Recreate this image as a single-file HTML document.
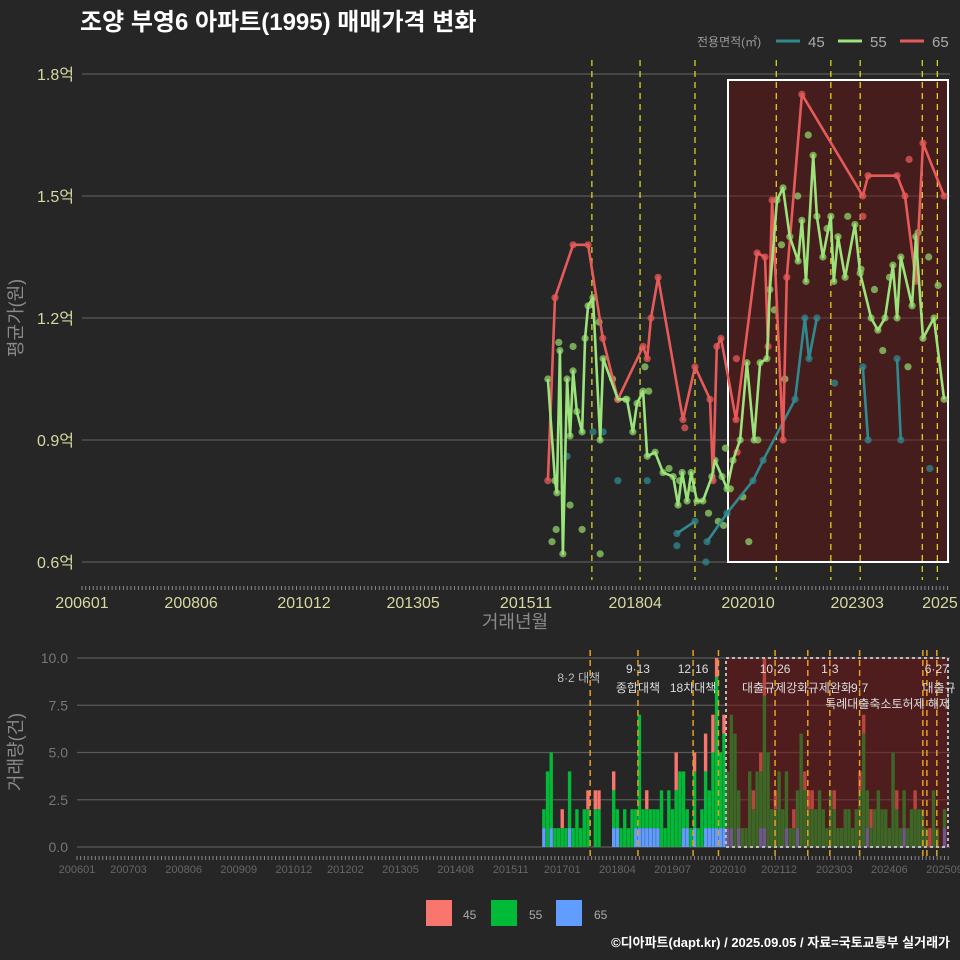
<!DOCTYPE html>
<html><head><meta charset="utf-8">
<style>
html,body{margin:0;padding:0;background:#262626;}
svg{display:block;font-family:"Liberation Sans","Noto Sans CJK KR",sans-serif;}
</style></head>
<body>
<svg id="c" width="960" height="960" viewBox="0 0 960 960">
<rect x="0" y="0" width="960" height="960" fill="#262626"/>
<text x="80" y="30" fill="#ffffff" font-size="24" font-weight="bold">조양 부영6 아파트(1995) 매매가격 변화</text>
<g>
<text x="697" y="46" fill="#9a9a9a" font-size="12">전용면적(㎡)</text>
<line x1="776" y1="41" x2="800" y2="41" stroke="#2f8a8f" stroke-width="3"/>
<text x="808" y="47" fill="#aaa" font-size="15">45</text>
<line x1="838" y1="41" x2="862" y2="41" stroke="#9be37a" stroke-width="3"/>
<text x="870" y="47" fill="#aaa" font-size="15">55</text>
<line x1="900" y1="41" x2="924" y2="41" stroke="#e85a5a" stroke-width="3"/>
<text x="932" y="47" fill="#aaa" font-size="15">65</text>
</g>
<text transform="translate(22,318) rotate(-90)" text-anchor="middle" fill="#8a8a8a" font-size="18">평균가(원)</text>
<text x="515" y="628" text-anchor="middle" fill="#8a8a8a" font-size="18">거래년월</text>
<text transform="translate(22,752) rotate(-90)" text-anchor="middle" fill="#8a8a8a" font-size="18">거래량(건)</text>
<g>
<rect x="426" y="900" width="26" height="26" fill="#f8766d"/>
<text x="463" y="919" fill="#aaa" font-size="12">45</text>
<rect x="491" y="900" width="26" height="26" fill="#00ba38"/>
<text x="529" y="919" fill="#aaa" font-size="12">55</text>
<rect x="556" y="900" width="26" height="26" fill="#619cff"/>
<text x="594" y="919" fill="#aaa" font-size="12">65</text>
</g>
<text x="950" y="947" text-anchor="end" fill="#ffffff" font-size="13" font-weight="bold">©디아파트(dapt.kr) / 2025.09.05 / 자료=국토교통부 실거래가</text>
</svg>
<script>
// ===== price chart data (t = months since 2006-01, values in 억) =====
const yTicks = [0.6, 0.9, 1.2, 1.5, 1.8];
const yTickLabels = ["0.6억", "0.9억", "1.2억", "1.5억", "1.8억"];
const xTickMonths = [0, 29, 59, 88, 118, 147, 177, 206, 228];
const xTickLabels = ["200601", "200806", "201012", "201305", "201511", "201804", "202010", "202303", "2025"];
const t65 = [123.8,125.7,130.5,134.5,138.4,142.4,149.1,150.2,151.2,153.1,159.7,162.9,166.9,167.7,168.7,169.8,173.8,179.4,181.5,182.3,183.4,186.3,187.3,191.3,207.5,208.9,216.6,218.7,221.6,223.5,229.1];
const v65 = [0.80,1.25,1.38,1.38,1.15,1.00,1.13,1.10,1.20,1.30,0.95,1.08,1.00,0.80,1.13,1.15,0.95,1.36,1.35,1.13,1.49,0.90,1.30,1.75,1.50,1.55,1.55,1.50,1.29,1.63,1.50];
const t55 = [123.8,125.7,126.2,127.0,127.8,128.9,129.7,130.5,131.5,132.9,133.7,134.5,135.8,137.7,138.5,142.4,144.8,146.4,147.5,149.1,150.2,152.3,154.4,157.1,158.4,159.5,160.8,161.9,163.4,165.0,167.4,168.2,170.1,171.4,173.0,174.9,176.7,178.6,180.2,182.0,182.8,184.7,186.3,188.1,190.3,191.3,192.4,194.3,195.3,196.9,199.0,199.8,200.9,202.8,205.4,206.8,209.7,211.5,213.4,215.5,216.6,217.6,220.6,221.6,223.5,226.4,229.1];
const v55 = [1.05,0.80,0.77,1.12,0.62,1.05,0.91,1.07,0.97,0.92,1.15,1.23,1.25,0.90,1.10,1.00,1.00,0.92,0.99,1.02,0.86,0.87,0.82,0.81,0.74,0.82,0.75,0.82,0.75,0.75,0.81,0.85,0.81,0.78,0.85,0.90,1.09,0.90,1.09,1.10,1.27,1.49,1.52,1.40,1.34,1.44,1.29,1.60,1.45,1.35,1.45,1.29,1.40,1.30,1.43,1.31,1.20,1.17,1.20,1.33,1.20,1.35,1.23,1.40,1.15,1.20,1.00];
const t45 = [158.1,162.9,null,166.1,171.4,178.3,181.0,189.5,192.1,193.2,195.3,null,207.5,208.9,null,216.6,217.6];
const v45 = [0.67,0.70,null,0.65,0.72,0.80,0.85,1.00,1.20,1.10,1.20,null,1.08,0.90,null,1.10,0.90];
const t55dots = [124.9,126.0,129.7,132.9,137.7,130.5,126.7,137.4,141.0,144.5,149.6,150.6,156.0,158.8,162.3,166.5,169.1,171.0,175.6,177.2,179.6,184.0,185.9,190.2,193.0,198.0,203.5,207.0,210.6,212.8,214.6,219.5,222.2,225.0,227.5,170.5,172.3,186.8];
const v55dots = [0.65,0.68,0.74,0.68,0.62,1.13,1.14,1.19,1.05,1.00,1.08,1.02,0.83,0.80,0.78,0.72,0.70,0.88,0.76,0.65,0.90,1.22,1.38,1.50,1.65,1.42,1.45,1.32,1.27,1.12,1.30,1.08,1.41,1.35,1.28,0.69,0.78,1.05];
const t65dots = [173.9,174.1,219.8,207.5,160.2];
const v65dots = [1.10,0.87,1.59,1.45,0.93];
const t45dots = [135.8,138.5,142.4,150.2,128.9,158.1,165.8,200.0,225.3];
const v45dots = [0.92,0.92,0.80,0.80,0.86,0.64,0.60,1.04,0.83];
const eventMonths = [135.5,148.3,162.9,184.5,199.0,206.8,223.3,227.3];

// ===== volume chart data (monthly from 2016-08) =====
const volStartMonth = 127;
const vol45 = [0,0,0,0,0,1,0,0,0,0,0,0,1,0,1,1,0,0,0,1,0,0,0,0,0,0,0,0,1,0,0,0,0,0,0,0,2,0,0,0,0,1,0,0,2,0,2,1,0,1,0,0,0,0,0,0,0,1,0,1,2,0,0,1,0,0,0,0,1,0,0,1,1,1,0,0,0,0,0,1,0,0,0,0,0,0,1,1,0,1,0,0,0,0,0,0,1,0,0,0,0,1,0,0,0,1,0,0,0,0];
const vol55 = [1,4,4,1,1,1,1,3,1,2,1,2,2,0,2,2,0,0,0,2,1,1,2,1,2,1,6,1,1,1,1,1,3,1,3,2,3,4,3,1,1,3,1,2,3,2,4,8,4,5,3,6,6,2,1,1,4,2,4,3,7,5,2,2,4,2,3,1,1,2,6,3,2,2,2,3,2,1,3,2,1,1,2,2,1,2,3,6,2,1,2,3,2,2,1,5,2,1,2,1,2,2,2,2,1,0,3,1,0,1];
const vol65 = [1,0,1,0,0,0,0,1,0,0,0,0,0,0,0,0,0,0,0,1,1,0,0,0,0,1,1,1,1,1,1,1,0,0,0,0,0,0,1,1,0,1,0,0,1,1,1,1,1,1,1,1,0,1,0,0,0,0,0,1,1,0,0,0,0,0,1,0,0,1,0,0,0,0,0,0,0,0,0,0,0,0,0,0,0,0,0,0,1,0,0,0,0,0,0,0,0,0,1,0,0,0,0,0,0,0,0,0,0,1];
const volTicks = [0, 2.5, 5, 7.5, 10];
const volTickLabels = ["0.0", "2.5", "5.0", "7.5", "10.0"];
const volXTickMonths = [0,14,29,44,59,73,88,103,118,132,147,162,177,191,206,221,236];
const volXTickLabels = ["200601","200703","200806","200909","201012","201202","201305","201408","201511","201701","201804","201907","202010","202112","202303","202406","202509"];
const volEventMonths = [139.6,152.6,167.6,174.5,189.9,198.8,204.8,212.9,230.1,231.2,233.9];
const annotLines1 = ["9·13","12·16","10·26","1·3","6·27"];
const annotMonths1 = [152.6,167.6,189.9,204.8,233.9];
const annotLines2 = ["종합대책","18차대책","대출규제강화","규제완화","9·7","대출규"];
const annotMonths2 = [152.6,167.6,189.9,204.8,212.9,234.5];

// ===== scales =====
const xP = m => 82 + m * 3.763;
const yP = v => 562 - (v - 0.6) / 1.2 * 488;
const xV = m => 77 + m * 3.676;
const yV = v => 847 - v * 18.9;

const NS = "http://www.w3.org/2000/svg";
const svg = document.getElementById("c");
function mk(tag, attrs, parent) {
  const e = document.createElementNS(NS, tag);
  for (const k in attrs) e.setAttribute(k, attrs[k]);
  (parent || svg).appendChild(e);
  return e;
}

// ---------- price chart ----------
const gP = mk("g", {});


yTicks.forEach((v, i) => {
  const l = mk("line", {x1: 82, x2: 950, y1: yP(v), y2: yP(v), stroke: "#5a5a5a", "stroke-width": 1.2}, gP);
  
  
  const t = mk("text", {x: 74, y: yP(v) + 6, "text-anchor": "end", fill: "#d8d8a0", "font-size": 16}, gP);
  
  
  t.textContent = yTickLabels[i];
});
for (let m = 0; m <= 230; m++) {
  const tk = mk("line", {x1: xP(m), x2: xP(m), y1: 586, y2: 590, stroke: "#888", "stroke-width": 1}, gP);
  
  
}
xTickMonths.forEach((m, i) => {
  const t = mk("text", {x: xP(m), y: 608, "text-anchor": "middle", fill: "#d8d8a0", "font-size": 16}, gP);
  
  
  t.textContent = xTickLabels[i];
});
const shade = mk("rect", {x: 728, y: 80, width: 220, height: 482, fill: "rgba(110,20,20,0.45)", stroke: "#ffffff", "stroke-width": 2}, gP);


eventMonths.forEach(m => {
  const l = mk("line", {x1: xP(m), x2: xP(m), y1: 60, y2: 580, stroke: "#e8e020", "stroke-width": 1.2, "stroke-dasharray": "6,5"}, gP);
  
  
});
function dots(ts, vs, color, name) {
  ts.forEach((t, i) => {
    if (t === null) return;
    const c = mk("circle", {cx: xP(t), cy: yP(vs[i]), r: 3.6, fill: color, "fill-opacity": 0.75}, gP);
    
    
  });
}
function line(ts, vs, color, name) {
  let d = "", pen = false;
  ts.forEach((t, i) => {
    if (t === null) { pen = false; return; }
    d += (pen ? "L" : "M") + xP(t).toFixed(1) + "," + yP(vs[i]).toFixed(1);
    pen = true;
  });
  const p = mk("path", {d: d, fill: "none", stroke: color, "stroke-width": 2.6, "stroke-linejoin": "round"}, gP);
  
  
}
dots(t45dots, v45dots, "#2f8a8f", "point-45");
dots(t55dots, v55dots, "#8fd36a", "point-55");
dots(t65dots, v65dots, "#e85a5a", "point-65");
dots(t45, v45, "#2f8a8f", "point-45");
dots(t55, v55, "#8fd36a", "point-55");
dots(t65, v65, "#e85a5a", "point-65");
line(t45, v45, "#2f8a8f", "line-45");
line(t65, v65, "#e85a5a", "line-65");
line(t55, v55, "#9be37a", "line-55");

// ---------- volume chart ----------
const gV = mk("g", {});


volTicks.forEach((v, i) => {
  const l = mk("line", {x1: 77, x2: 950, y1: yV(v), y2: yV(v), stroke: "#5a5a5a", "stroke-width": 1.2}, gV);
  
  
  const t = mk("text", {x: 68, y: yV(v) + 5, "text-anchor": "end", fill: "#777", "font-size": 14}, gV);
  
  
  t.textContent = volTickLabels[i];
});
for (let m = 0; m <= 237; m++) {
  const tk = mk("line", {x1: xV(m), x2: xV(m), y1: 856, y2: 860, stroke: "#888", "stroke-width": 1}, gV);
  
  
}
volXTickLabels.forEach((lab, i) => {
  const t = mk("text", {x: xV(volXTickMonths[i]), y: 873, "text-anchor": "middle", fill: "#666", "font-size": 11}, gV);
  
  
  t.textContent = lab;
});
const bw = 3.4;
vol55.forEach((g, i) => {
  const m = volStartMonth + i;
  const x = xV(m) - bw / 2;
  let base = 0;
  [[vol65[i], "#619cff", "bar-65"], [g, "#00ba38", "bar-55"], [vol45[i], "#f8766d", "bar-45"]].forEach(s => {
    if (s[0] > 0) {
      const r = mk("rect", {x: x, y: yV(base + s[0]), width: bw, height: s[0] * 18.9, fill: s[1]}, gV);
      
      
      base += s[0];
    }
  });
});
const shadeV = mk("rect", {x: 726, y: 658, width: 222, height: 189, fill: "rgba(120,20,20,0.5)", stroke: "#bbbbbb", "stroke-width": 2, "stroke-dasharray": "3,3"}, gV);


volEventMonths.forEach(m => {
  const l = mk("line", {x1: xV(m), x2: xV(m), y1: 650, y2: 856, stroke: "#e8a020", "stroke-width": 1.5, "stroke-dasharray": "6,4"}, gV);
  
  
});
const a0 = mk("text", {x: xV(136.5), y: 682, "text-anchor": "middle", fill: "#bbb", "font-size": 12}, gV);


a0.textContent = "8·2 대책";
annotLines1.forEach((s, i) => {
  const t = mk("text", {x: xV(annotMonths1[i]), y: 673, "text-anchor": "middle", fill: "#ddd", "font-size": 12}, gV);
  
  
  t.textContent = s;
});
annotLines2.forEach((s, i) => {
  const t = mk("text", {x: xV(annotMonths2[i]), y: 692, "text-anchor": "middle", fill: "#ddd", "font-size": 12}, gV);
  
  
  t.textContent = s;
});
const a9 = mk("text", {x: 950, y: 708, "text-anchor": "end", fill: "#ddd", "font-size": 12}, gV);


a9.textContent = "특례대출축소토허제 해제";
</script>
</body></html>
